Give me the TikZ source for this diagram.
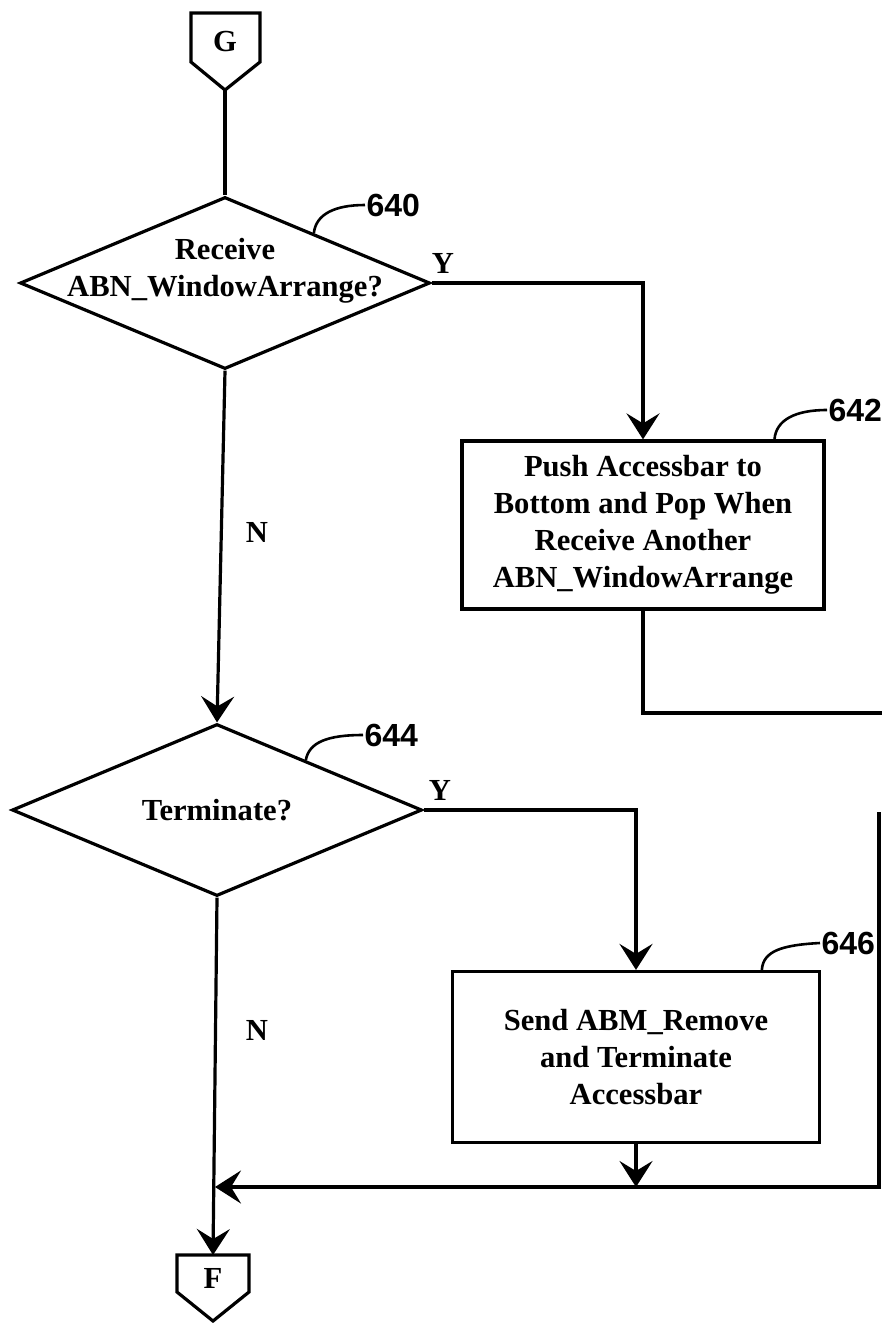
\documentclass[tikz,border=0pt]{standalone}
\usepackage{fontspec}
\setmainfont{Liberation Serif}
\newfontfamily\numfont{Liberation Sans}
\usetikzlibrary{shapes.geometric,arrows.meta,calc}
\begin{document}
\begin{tikzpicture}[x=0.5pt,y=-0.5pt,
  line width=1.6pt,
  every node/.style={inner sep=0pt},
  txt/.style={font=\fontsize{15.3}{18.5}\selectfont\bfseries, align=center},
  dec/.style={draw, shape=diamond, minimum width=205pt, minimum height=86pt},
  procbox/.style={draw, rectangle, txt},
  ref/.style={font=\numfont\bfseries\fontsize{16}{18}\selectfont, anchor=west},
  arr/.style={-{Stealth[length=13pt,width=16.5pt,inset=5pt]}},
  lead/.style={line width=1.3pt},
  conn/.style={line width=1.6pt, line join=miter}
]
\useasboundingbox (0,0) rectangle (882,1323);

% off-page connector G
\draw[conn] (191,13) -- (260,13) -- (260,62) -- (225,90) -- (191,62) -- cycle;
\node[txt] (G) at (225,42) {G};
\coordinate (Gtip) at (225,90);

% decision 640
\node[dec, label={[txt,yshift=6pt]center:{Receive\\ABN\_WindowArrange?}}] (d1) at (225,283) {};
\draw (Gtip) -- (d1.north);
\node[ref] (l640) at (365,205) {640};
\draw[lead] ($(d1.north)!0.43!(d1.east)$) .. controls (316,214) and (335,205) .. (l640.west);
\node[txt] (y1) at (443,263) {Y};
\node[txt] (n1) at (257,532) {N};

% process 642
\node[procbox, minimum width=181pt, minimum height=84pt] (b1) at (643,525)
  {Push Accessbar to\\Bottom and Pop When\\Receive Another\\ABN\_WindowArrange};
\draw[arr] (d1.east) -| (b1.north);
\node[ref] (l642) at (827,410) {642};
\draw[lead] ($(b1.north west)!0.86!(b1.north east)$) .. controls (776,420) and (795,410) .. (l642.west);
\coordinate (e1) at (882,713);
\draw (b1.south) |- (e1);

% decision 644
\node[dec, label={[txt]center:{Terminate?}}] (d2) at (217,810) {};
\draw[arr] (d1.south) -- (d2.north);
\node[ref] (l644) at (363,735) {644};
\draw[lead] ($(d2.north)!0.43!(d2.east)$) .. controls (309,742) and (328,735) .. (l644.west);
\node[txt] (y2) at (440,790) {Y};
\node[txt] (n2) at (257,1030) {N};

% process 646
\node[procbox, minimum width=183.5pt, minimum height=85.5pt] (b2) at (636,1057)
  {Send ABM\_Remove\\and Terminate\\Accessbar};
\draw[arr] (d2.east) -| (b2.north);
\node[ref] (l646) at (820,943) {646};
\draw[lead] ($(b2.north west)!0.84!(b2.north east)$) .. controls (763,951) and (782,945) .. (l646.west);

% off-page connector F
\draw[conn] (177,1255) -- (249,1255) -- (249,1292) -- (213,1321) -- (177,1292) -- cycle;
\node[txt] (F) at (213,1278) {F};
\coordinate (Ftop) at (213,1255);
\draw[arr] (d2.south) -- (Ftop);

% merge line
\coordinate (r1) at (879,812);
\coordinate (j) at (215,1187);
\draw[arr] (r1) |- (j);
\draw[arr] (b2.south) -- (b2.south |- j);
\end{tikzpicture}
\end{document}
